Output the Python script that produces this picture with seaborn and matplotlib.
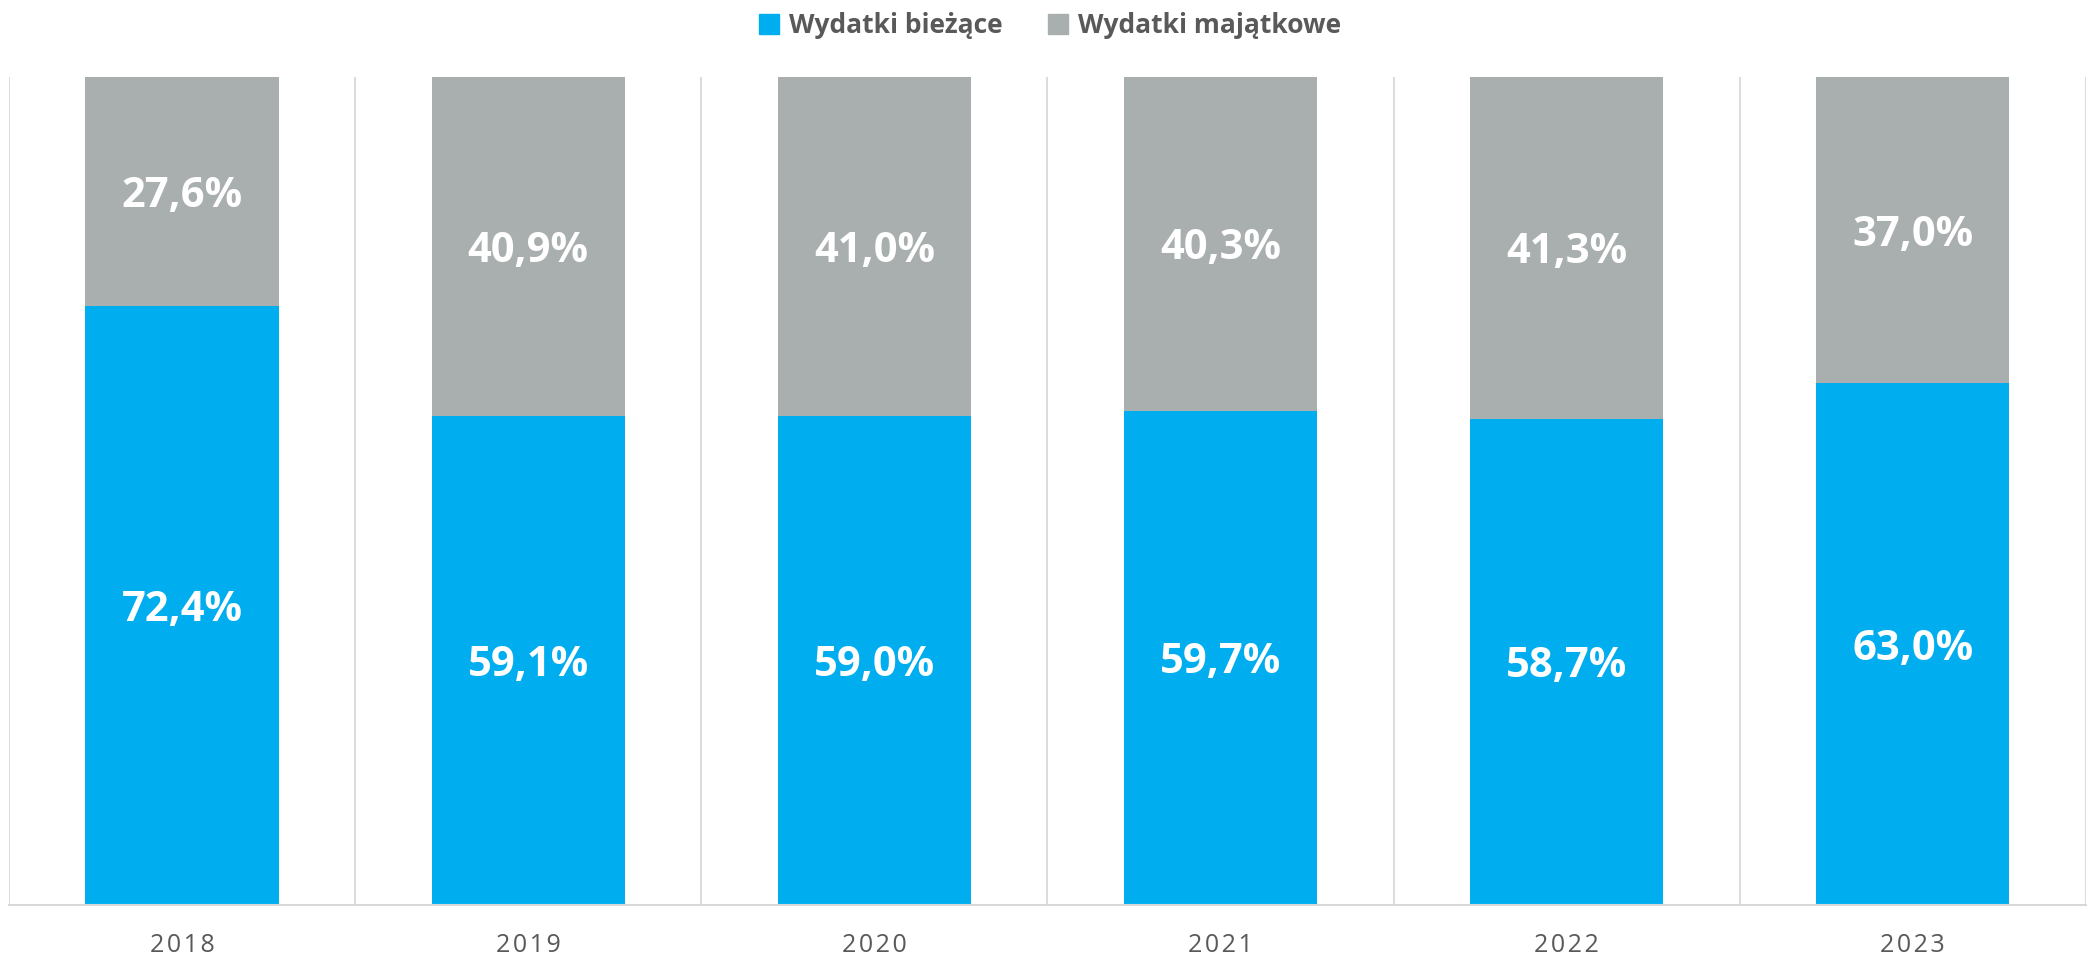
import pandas as pd
import matplotlib.pyplot as plt
import seaborn as sns
from matplotlib.patches import Patch

lata = ['2018', '2019', '2020', '2021', '2022', '2023']
biezace = [72.4, 59.1, 59.0, 59.7, 58.7, 63.0]
majatkowe = [27.6, 40.9, 41.0, 40.3, 41.3, 37.0]

kolor_biezace = '#00AEEF'
kolor_majatkowe = '#A9AFAF'
kolor_tekst = '#595959'

sns.set_theme(style='white')
plt.rcParams['font.family'] = ['Open Sans', 'DejaVu Sans']

data = pd.DataFrame({'rok': lata, 'biezace': biezace, 'majatkowe': majatkowe})
data['suma'] = data['biezace'] + data['majatkowe']

fig = plt.figure(figsize=(20.88, 9.59), dpi=100)
ax = fig.add_axes([0.0043, 0.0563, 0.9947, 0.8634])

# szare pod spodem (pelna wysokosc), niebieskie na wierzchu
sns.barplot(data=data, x='rok', y='suma', color=kolor_majatkowe, width=0.558,
            saturation=1, linewidth=0, ax=ax)
sns.barplot(data=data, x='rok', y='biezace', color=kolor_biezace, width=0.558,
            saturation=1, linewidth=0, ax=ax)

for i, row in data.iterrows():
    ax.text(i, row['biezace'] / 2, f"{row['biezace']:.1f}%".replace('.', ','),
            ha='center', va='center_baseline', color='white', fontsize=30,
            fontweight='bold')
    ax.text(i, row['biezace'] + row['majatkowe'] / 2,
            f"{row['majatkowe']:.1f}%".replace('.', ','),
            ha='center', va='center_baseline', color='white', fontsize=30,
            fontweight='bold')

ax.set_xlim(-0.5, len(lata) - 0.5)
ax.set_ylim(0, 100)
for x in range(len(lata) + 1):
    ax.axvline(x - 0.5, color='#D9D9D9', linewidth=1.3, zorder=0)

for s in ['top', 'left', 'right']:
    ax.spines[s].set_visible(False)
ax.spines['bottom'].set_color('#D9D9D9')
ax.spines['bottom'].set_linewidth(1.5)
ax.set_yticks([])
ax.set_xlabel('')
ax.set_ylabel('')
ax.set_xticks(range(len(lata)))
ax.set_xticklabels(['\u200a'.join(r) for r in lata])
ax.tick_params(axis='x', length=0, pad=20, labelsize=18, labelcolor=kolor_tekst)

uchwyty = [Patch(color=kolor_biezace, label='Wydatki bieżące'),
           Patch(color=kolor_majatkowe, label='Wydatki majątkowe')]
leg = fig.legend(handles=uchwyty, loc='upper center', bbox_to_anchor=(0.503, 1.012),
                 ncol=2, frameon=False, handlelength=0.75, handleheight=0.75,
                 handletextpad=0.4, columnspacing=1.7,
                 prop={'size': 19, 'weight': 'bold'})
for t in leg.get_texts():
    t.set_color(kolor_tekst)

fig.savefig('out.png', dpi=100)
